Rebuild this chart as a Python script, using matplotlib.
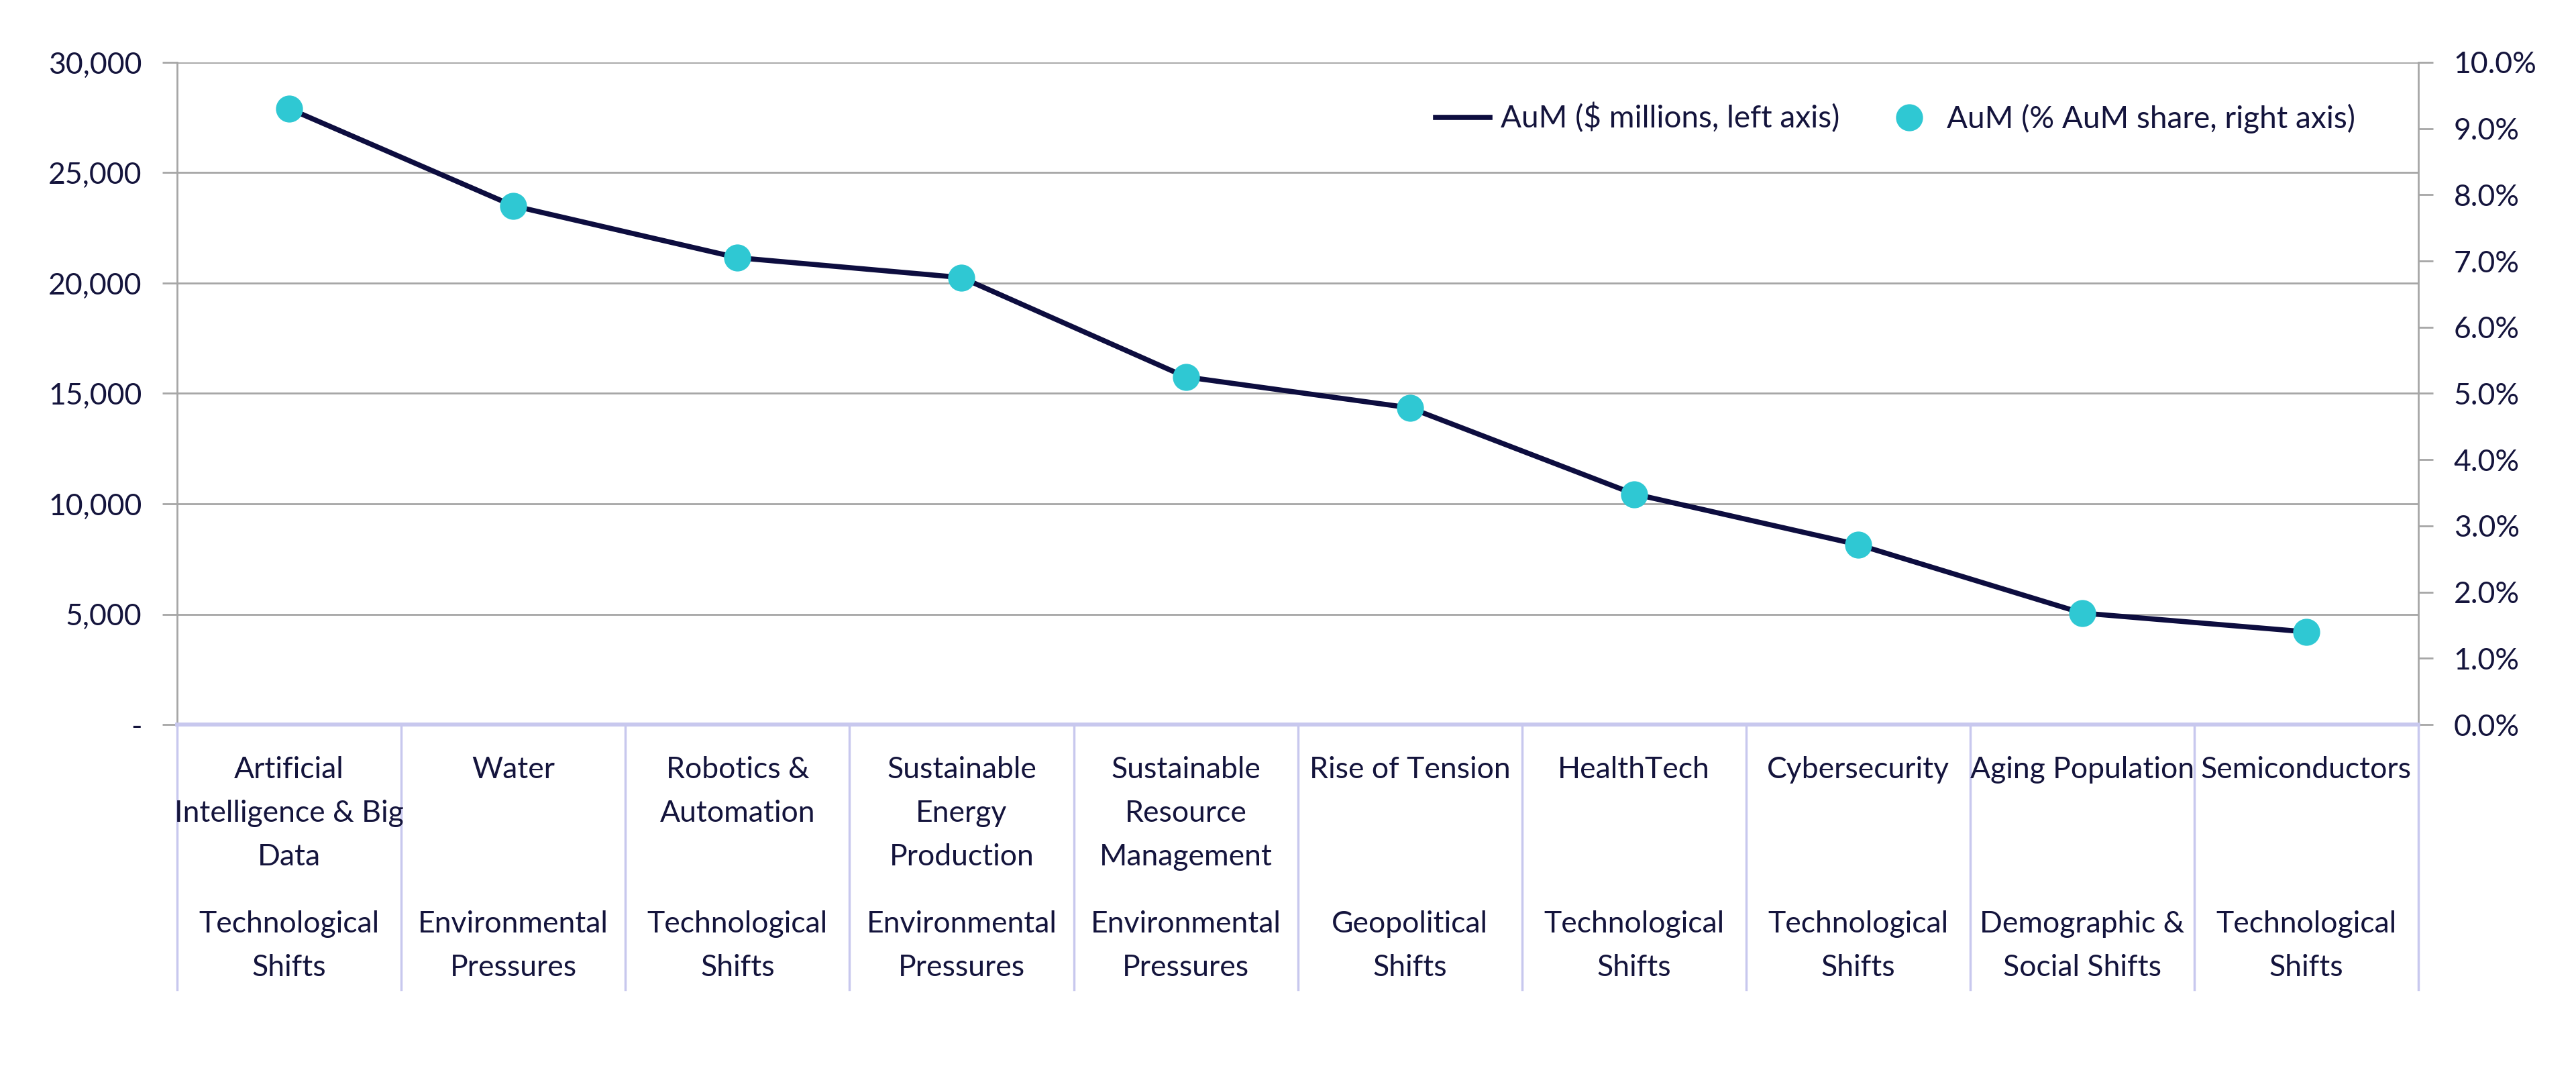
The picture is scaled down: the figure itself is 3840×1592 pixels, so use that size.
import matplotlib
matplotlib.use("Agg")
import matplotlib.pyplot as plt
from matplotlib.lines import Line2D
from matplotlib.ticker import FuncFormatter, MultipleLocator

plt.rcParams['font.family'] = ['Lato', 'DejaVu Sans']

themes = ["Artificial\nIntelligence & Big\nData", "Water", "Robotics &\nAutomation",
          "Sustainable\nEnergy\nProduction", "Sustainable\nResource\nManagement",
          "Rise of Tension", "HealthTech", "Cybersecurity", "Aging Population",
          "Semiconductors"]
groups = ["Technological\nShifts", "Environmental\nPressures", "Technological\nShifts",
          "Environmental\nPressures", "Environmental\nPressures", "Geopolitical\nShifts",
          "Technological\nShifts", "Technological\nShifts", "Demographic &\nSocial Shifts",
          "Technological\nShifts"]
aum_millions = [27900, 23500, 21150, 20250, 15750, 14350, 10450, 8150, 5050, 4200]
aum_share_pct = [9.30, 7.83, 7.05, 6.75, 5.25, 4.78, 3.48, 2.72, 1.68, 1.40]
left_ticks = [0, 5000, 10000, 15000, 20000, 25000, 30000]

NAVY = "#0d0d3f"
TEAL = "#2fc8d3"
GRID = "#a6a6a6"
LAV = "#c8c8ee"
TXT = "#14143c"
FS = 32

fig = plt.figure(figsize=(38.4, 15.92), dpi=100)
ax = fig.add_axes([0.0688, 0.3216, 0.87, 0.62])
ax2 = ax.twinx()

x = list(range(len(themes)))
ax.plot(x, aum_millions, color=NAVY, lw=5.5, zorder=3, solid_capstyle='round')
ax2.plot(x, aum_share_pct, 'o', color=TEAL, markersize=29, markeredgewidth=0, zorder=4)

ax.set_xlim(-0.5, len(themes) - 0.5)
ax.set_ylim(0, 30000)
ax2.set_ylim(0, 10)
ax.set_yticks(left_ticks)
ax.yaxis.set_major_formatter(FuncFormatter(lambda v, p: "-" if v == 0 else f"{v:,.0f}"))
ax2.yaxis.set_major_locator(MultipleLocator(1))
ax2.yaxis.set_major_formatter(FuncFormatter(lambda v, p: f"{v:.1f}%"))
ax.set_xticks([])

ax.grid(axis='y', color=GRID, lw=2)
ax.set_axisbelow(True)
for a in (ax, ax2):
    a.spines['top'].set_visible(False)
    a.spines['left'].set_color(GRID)
    a.spines['right'].set_color(GRID)
    a.spines['left'].set_linewidth(2)
    a.spines['right'].set_linewidth(2)
    a.spines['bottom'].set_color(LAV)
    a.spines['bottom'].set_linewidth(4)
    a.tick_params(axis='y', length=16, width=2, color=GRID, labelsize=FS, labelcolor=TXT, pad=22)
ax2.spines['left'].set_visible(False)
ax.spines['right'].set_visible(False)

# category table
trans = ax.get_xaxis_transform()
for b in range(len(themes) + 1):
    ax.plot([b - 0.5, b - 0.5], [0, -0.40], transform=trans, color=LAV, lw=2.5, clip_on=False)
for i in x:
    ax.text(i, -0.048, themes[i], transform=trans, ha='center', va='top', fontsize=FS,
            color=TXT, linespacing=1.72)
    ax.text(i, -0.281, groups[i], transform=trans, ha='center', va='top', fontsize=FS,
            color=TXT, linespacing=1.72)

handles = [Line2D([], [], color=NAVY, lw=5.5),
           Line2D([], [], marker='o', color=TEAL, ls='none', markersize=29, markeredgewidth=0)]
labels = ["AuM ($ millions, left axis)", "AuM (% AuM share, right axis)"]
leg = ax2.legend(handles, labels, loc='center right', bbox_to_anchor=(0.972, 0.916),
                 frameon=False, ncol=2, fontsize=33, handlelength=1.75, handletextpad=0.35,
                 columnspacing=1.4, borderpad=0, borderaxespad=0)
for t in leg.get_texts():
    t.set_color(TXT)

fig.savefig("out.png", dpi=100, facecolor='white')
